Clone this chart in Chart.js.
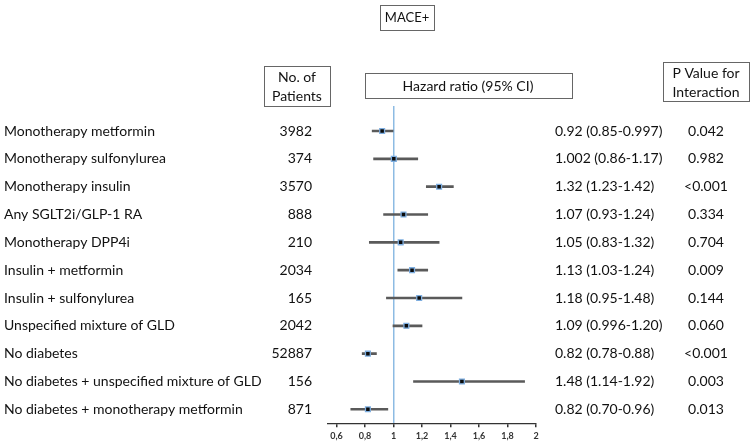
<!DOCTYPE html>
<html>
<head>
<meta charset="utf-8">
<script src="https://cdn.jsdelivr.net/npm/chart.js@4.4.0/dist/chart.umd.min.js"></script>
<style>
	html, body { margin: 0; padding: 0; background: #fff; }
	#wrap { width: 754px; height: 444px; }
</style>
</head>
<body>
<div id="wrap"><canvas id="chart-forest"></canvas></div>
<script>
const groups = [
	"Monotherapy metformin",
	"Monotherapy sulfonylurea",
	"Monotherapy insulin",
	"Any SGLT2i/GLP-1 RA",
	"Monotherapy DPP4i",
	"Insulin + metformin",
	"Insulin + sulfonylurea",
	"Unspecified mixture of GLD",
	"No diabetes",
	"No diabetes + unspecified mixture of GLD",
	"No diabetes + monotherapy metformin"
];
const patients = ["3982", "374", "3570", "888", "210", "2034", "165", "2042", "52887", "156", "871"];
const hazardRatios = [0.92, 1.002, 1.32, 1.07, 1.05, 1.13, 1.18, 1.09, 0.82, 1.48, 0.82];
const ciLow = [0.85, 0.86, 1.23, 0.93, 0.83, 1.03, 0.95, 0.996, 0.78, 1.14, 0.70];
const ciHigh = [0.997, 1.17, 1.42, 1.24, 1.32, 1.24, 1.48, 1.20, 0.88, 1.92, 0.96];
const hrLabels = [
	"0.92 (0.85-0.997)", "1.002 (0.86-1.17)", "1.32 (1.23-1.42)", "1.07 (0.93-1.24)",
	"1.05 (0.83-1.32)", "1.13 (1.03-1.24)", "1.18 (0.95-1.48)", "1.09 (0.996-1.20)",
	"0.82 (0.78-0.88)", "1.48 (1.14-1.92)", "0.82 (0.70-0.96)"
];
const pValues = ["0.042", "0.982", "<0.001", "0.334", "0.704", "0.009", "0.144", "0.060", "<0.001", "0.003", "0.013"];
const xTicks = [0.6, 0.8, 1, 1.2, 1.4, 1.6, 1.8, 2];

const FONT = "Lato, 'Open Sans', sans-serif";

// header boxes + text columns, rows placed through the y scale
const tablePlugin = {
	id: 'forestTable',
	afterDraw(chart) {
		const ctx = chart.ctx;
		const yScale = chart.scales.y;
		ctx.save();
		ctx.fillStyle = '#111';
		ctx.textBaseline = 'middle';
		ctx.font = '14px ' + FONT;
		groups.forEach((g, i) => {
			const py = yScale.getPixelForValue(i);
			ctx.textAlign = 'left';
			ctx.fillText(g, 4, py);
			ctx.textAlign = 'right';
			ctx.fillText(patients[i], 312, py);
			ctx.textAlign = 'left';
			ctx.fillText(hrLabels[i], 555, py);
			ctx.textAlign = 'center';
			ctx.fillText(pValues[i], 706, py);
		});

		ctx.strokeStyle = '#666';
		ctx.lineWidth = 1;
		ctx.font = '13px ' + FONT;
		ctx.textAlign = 'center';
		// title
		ctx.strokeRect(380.5, 5.5, 54, 25);
		ctx.fillText("MACE+", 407, 18);
		// No. of Patients
		ctx.strokeRect(264.5, 66.5, 66, 40);
		ctx.font = '14px ' + FONT;
		ctx.fillText("No. of", 297, 77);
		ctx.fillText("Patients", 297, 96);
		// Hazard ratio
		ctx.strokeRect(365.5, 73.5, 207, 25);
		ctx.fillText("Hazard ratio (95% CI)", 468, 86);
		// P value
		ctx.strokeRect(663.5, 62.5, 86, 39);
		ctx.fillText("P Value for", 706, 73);
		ctx.fillText("Interaction", 706, 92);
		ctx.restore();
	}
};

const ctxEl = document.getElementById("chart-forest");
new Chart(ctxEl, {
	type: 'bar',
	data: {
		datasets: [
			{
				type: 'scatter',
				label: 'HR',
				data: hazardRatios.map((v, i) => ({ x: v, y: i })),
				pointStyle: 'rect',
				pointRadius: 3.4,
				backgroundColor: '#0a0a0a',
				borderColor: '#7eaee0',
				borderWidth: 1.3,
				order: 0
			},
			{
				label: '95% CI',
				data: ciLow.map((lo, i) => ({ x: [lo, ciHigh[i]], y: i })),
				backgroundColor: '#5a5a5a',
				borderWidth: 0,
				barThickness: 2,
				order: 1
			}
		]
	},
	options: {
		indexAxis: 'y',
		responsive: true,
		maintainAspectRatio: false,
		animation: false,
		layout: { padding: { left: 328, right: 218, top: 106, bottom: 0 } },
		plugins: {
			legend: { display: false },
			tooltip: { enabled: false }
		},
		scales: {
			x: {
				type: 'linear',
				min: 0.54,
				max: 2,
				afterBuildTicks: scale => {
					scale.ticks = xTicks.map(v => ({ value: v }));
				},
				border: { display: true, color: '#333', width: 1.3 },
				grid: {
					drawOnChartArea: true,
					color: c => (c.tick && c.tick.value === 1) ? '#8dbbe3' : 'rgba(0,0,0,0)',
					lineWidth: 1.5,
					tickColor: '#333',
					tickLength: 4
				},
				ticks: {
					font: { family: FONT, size: 9, weight: 'bold' },
					color: '#333',
					padding: 3,
					maxRotation: 0,
					callback: v => String(v).replace('.', ',')
				}
			},
			y: {
				type: 'linear',
				reverse: true,
				offset: false,
				min: -0.9,
				max: 10.5,
				display: false
			}
		}
	},
	plugins: [tablePlugin]
});
</script>
</body>
</html>
